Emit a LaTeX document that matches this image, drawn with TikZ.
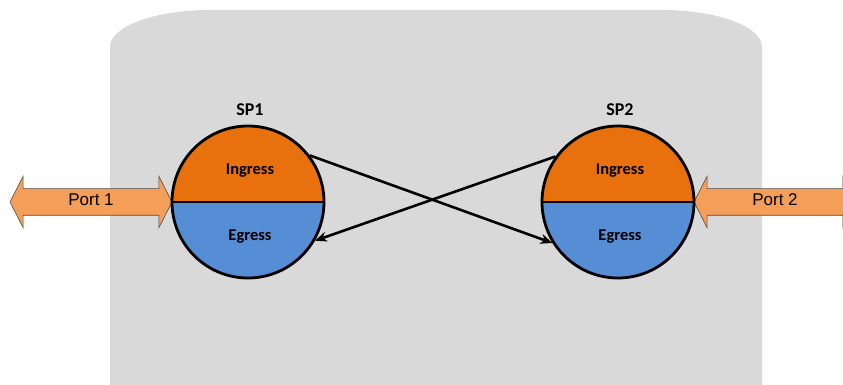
\documentclass[tikz,border=0pt]{standalone}
\usepackage{fontspec}
\setmainfont{Carlito}
\newfontfamily\arialfont{Liberation Sans}
\usetikzlibrary{shapes.arrows,arrows.meta}
\definecolor{bggray}{HTML}{D9D9D9}
\definecolor{portfill}{HTML}{F59E5A}
\definecolor{ingressc}{HTML}{E8710E}
\definecolor{egressc}{HTML}{558ED5}
\tikzset{
  spcircle/.style={circle, minimum size=152pt, inner sep=0pt, line width=2.8pt, draw=black,
    path picture={
      \fill[ingressc] (path picture bounding box.west) rectangle (path picture bounding box.north east);
      \fill[egressc] (path picture bounding box.west) rectangle (path picture bounding box.south east);
    }},
  port/.style={double arrow, draw=black!70, line width=0.6pt, fill=portfill,
    minimum width=0pt, minimum height=162pt, double arrow head extend=12.5pt,
    text height=12pt, text depth=4pt, inner ysep=5pt, inner xsep=0pt,
    double arrow tip angle=126, font=\arialfont\fontsize{17}{19}\selectfont},
  splabel/.style={font=\bfseries\fontsize{18}{20}\selectfont},
  inlabel/.style={font=\bfseries\fontsize{16.5}{18}\selectfont},
  flow/.style={line width=2.6pt, -{Stealth[length=12pt,width=10pt]}}
}
\begin{document}
\begin{tikzpicture}[x=1pt,y=1pt]
\useasboundingbox (0,0) rectangle (843,385);
\clip (0,0) rectangle (843,385);
% background
\fill[bggray] (110,-40) -- (110,338)
  arc[start angle=180,end angle=90,x radius=100pt,y radius=37pt]
  -- (662,375)
  arc[start angle=90,end angle=0,x radius=100pt,y radius=37pt]
  -- (762,-40) -- cycle;
% ports
\node[port] (port1) at (91,183) {Port 1};
\node[port] (port2) at (775,183) {Port 2};
% service points
\node[spcircle] (sp1) at (248,183) {};
\node[spcircle] (sp2) at (618,183) {};
\draw[line width=2.8pt] (sp1.west) -- (sp1.east);
\draw[line width=2.8pt] (sp2.west) -- (sp2.east);
\node[splabel] (sp1l) at (250,275) {SP1};
\node[splabel] (sp2l) at (620,275) {SP2};
\node[inlabel] (in1) at (250,214) {Ingress};
\node[inlabel] (eg1) at (250,148) {Egress};
\node[inlabel] (in2) at (620,214) {Ingress};
\node[inlabel] (eg2) at (620,148) {Egress};
% flows
\draw[flow] (sp1.37) -- (sp2.212);
\draw[flow] (sp2.144) -- (sp1.330);
\end{tikzpicture}
\end{document}
